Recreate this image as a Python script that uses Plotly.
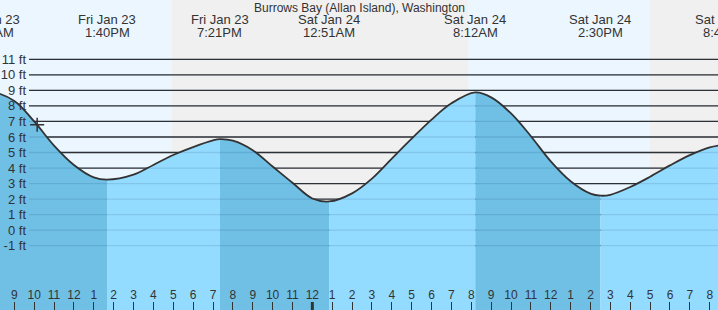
import plotly.graph_objects as go
import pandas as pd

TITLE = "Burrows Bay (Allan Island), Washington"

# Tide height (ft)
times = [
    "2026-01-23 07:00", "2026-01-23 07:50", "2026-01-23 09:00", "2026-01-23 10:00",
    "2026-01-23 11:00", "2026-01-23 12:00", "2026-01-23 13:00", "2026-01-23 13:40",
    "2026-01-23 15:00", "2026-01-23 16:00", "2026-01-23 17:00",
    "2026-01-23 18:00", "2026-01-23 19:00", "2026-01-23 19:21", "2026-01-23 20:00",
    "2026-01-23 21:00", "2026-01-23 22:00", "2026-01-23 23:00", "2026-01-24 00:00",
    "2026-01-24 00:51", "2026-01-24 02:00", "2026-01-24 03:00",
    "2026-01-24 04:00", "2026-01-24 05:00", "2026-01-24 06:00", "2026-01-24 07:00",
    "2026-01-24 08:12", "2026-01-24 09:00", "2026-01-24 10:00",
    "2026-01-24 11:00", "2026-01-24 12:00", "2026-01-24 13:00", "2026-01-24 14:00",
    "2026-01-24 14:30", "2026-01-24 15:00", "2026-01-24 16:00", "2026-01-24 17:00",
    "2026-01-24 18:00", "2026-01-24 19:00", "2026-01-24 20:00", "2026-01-24 20:48",
]
heights = [8.72, 8.90, 8.32, 7.00,
           5.45, 4.20, 3.40, 3.25,
           3.57, 4.20, 4.84,
           5.35, 5.78, 5.86, 5.76,
           5.15, 4.10, 3.05, 2.04,
           1.85, 2.37, 3.32,
           4.61, 5.89, 7.12, 8.17,
           8.87, 8.55, 7.52,
           6.05, 4.43, 3.15, 2.35,
           2.22, 2.28, 2.78, 3.44,
           4.17, 4.83, 5.33, 5.52]

# High / low tides
ext_times = ["2026-01-23 07:50", "2026-01-23 13:40", "2026-01-23 19:21", "2026-01-24 00:51",
             "2026-01-24 08:12", "2026-01-24 14:30", "2026-01-24 20:48"]
ext_kind = ["H", "L", "H", "L", "H", "L", "H"]
ext_date_labels = ["Fri Jan 23", "Fri Jan 23", "Fri Jan 23", "Sat Jan 24",
                   "Sat Jan 24", "Sat Jan 24", "Sat Jan 24"]
ext_time_labels = ["7:50AM", "1:40PM", "7:21PM", "12:51AM", "8:12AM", "2:30PM", "8:48PM"]

# Sunset / sunrise
sun_events = ["2026-01-23 16:56", "2026-01-24 07:50", "2026-01-24 16:58"]

# current time marker
now_time = "2026-01-23 10:09"
now_height = 6.78

y_ticks = list(range(-1, 12))
y_tick_labels = [f"{v} ft" for v in y_ticks]

x_range = ["2026-01-23 08:16:48", "2026-01-24 20:25:00"]
y_range = [-5.14, 14.82]

FONT = "Liberation Sans, Arial, sans-serif"
TXT = "#333333"
DARK_FILL = "rgb(112,192,230)"
LIGHT_FILL = "rgb(148,220,255)"
DAY = "rgb(235,246,255)"
NIGHT = "rgb(240,240,240)"

t = pd.to_datetime(pd.Series(times))
h = pd.Series(heights)
et = pd.to_datetime(pd.Series(ext_times))
x0, x1 = pd.to_datetime(x_range[0]), pd.to_datetime(x_range[1])

fig = go.Figure()

# filled segments between consecutive extremes
for i in range(len(et) - 1):
    a, b = et[i], et[i + 1]
    m = (t >= a) & (t <= b)
    fig.add_trace(go.Scatter(x=[a, b], y=[y_range[0] - 2] * 2, mode="lines",
                             line=dict(width=0, color="rgba(0,0,0,0)"),
                             hoverinfo="skip", showlegend=False))
    fig.add_trace(go.Scatter(x=t[m], y=h[m], mode="lines", fill="tonexty",
                             fillcolor=DARK_FILL if ext_kind[i] == "H" else LIGHT_FILL,
                             line=dict(width=0, shape="spline", color="rgba(0,0,0,0)"),
                             hoverinfo="skip", showlegend=False))

# tide curve
fig.add_trace(go.Scatter(x=t, y=h, mode="lines",
                         line=dict(color="#333333", width=1.8, shape="spline"),
                         showlegend=False, hoverinfo="skip"))

# now marker
fig.add_trace(go.Scatter(x=[now_time], y=[now_height], mode="markers",
                         marker=dict(symbol="cross-thin", size=10,
                                     line=dict(color="#333333", width=1.5)),
                         showlegend=False, hoverinfo="skip"))

shapes = []
# day / night bands
edges = [x0] + list(pd.to_datetime(pd.Series(sun_events))) + [x1]
for i in range(len(edges) - 1):
    shapes.append(dict(type="rect", xref="x", yref="paper", x0=edges[i], x1=edges[i + 1],
                       y0=0, y1=1, fillcolor=DAY if i % 2 == 0 else NIGHT,
                       line=dict(width=0), layer="below"))
# grid lines
gx0 = 29 / 718
for v in y_ticks:
    shapes.append(dict(type="line", xref="paper", yref="y", x0=gx0, x1=1, y0=v, y1=v,
                       line=dict(color="#333333", width=1.3), layer="below"))
    shapes.append(dict(type="line", xref="paper", yref="y", x0=gx0, x1=1, y0=v, y1=v,
                       line=dict(color="rgba(0,40,80,0.12)", width=1.3), layer="above"))
# midnight thick tick
shapes.append(dict(type="line", xref="x", yref="paper", x0="2026-01-24 00:00",
                   x1="2026-01-24 00:00", y0=0, y1=8 / 310,
                   line=dict(color="#333333", width=3), layer="above"))

annotations = [dict(text=TITLE, xref="paper", yref="paper", x=0.5, y=1 - 8 / 310,
                    xanchor="center", yanchor="middle", showarrow=False,
                    font=dict(family=FONT, size=12, color=TXT))]
span = (x1 - x0)
for tt, dl, tl in zip(et, ext_date_labels, ext_time_labels):
    fx = (tt - x0) / span
    annotations.append(dict(text=dl, xref="paper", yref="paper", x=fx, y=1 - 20 / 310,
                            xanchor="center", yanchor="middle", showarrow=False,
                            font=dict(family=FONT, size=13, color=TXT)))
    annotations.append(dict(text=tl, xref="paper", yref="paper", x=fx, y=1 - 32 / 310,
                            xanchor="center", yanchor="middle", showarrow=False,
                            font=dict(family=FONT, size=13, color=TXT)))

tick_times = pd.date_range("2026-01-23 09:00", "2026-01-24 20:00", freq="h")
tick_text = [str((d.hour % 12) or 12) for d in tick_times]

fig.update_layout(
    width=718, height=310,
    margin=dict(l=0, r=0, t=0, b=0),
    paper_bgcolor="white", plot_bgcolor="white",
    shapes=shapes, annotations=annotations,
    xaxis=dict(type="date", range=x_range, showgrid=False, zeroline=False,
               tickvals=list(tick_times), ticktext=tick_text,
               ticks="inside", ticklen=8, tickwidth=1, tickcolor="#333333",
               ticklabelposition="inside",
               tickfont=dict(family=FONT, size=12, color=TXT), automargin=False),
    yaxis=dict(range=y_range, showgrid=False, zeroline=False,
               tickvals=y_ticks, ticktext=y_tick_labels, ticks="",
               anchor="free", position=26 / 718, side="left",
               tickfont=dict(family=FONT, size=13, color=TXT), automargin=False),
    font=dict(family=FONT),
)

fig.write_html("out.html")
